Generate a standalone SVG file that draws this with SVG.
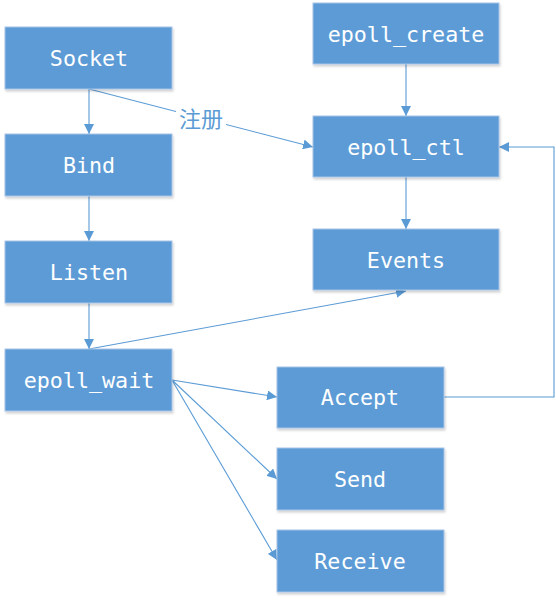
<svg xmlns="http://www.w3.org/2000/svg" width="556" height="600" viewBox="0 0 556 600">
<defs>
<marker id="ah" viewBox="0 0 10 10" refX="10" refY="5" markerWidth="10" markerHeight="10" markerUnits="userSpaceOnUse" orient="auto">
<path d="M0,0 L10,5 L0,10 Z" fill="#5B9BD5"/>
</marker>
<filter id="sh" x="-5%" y="-5%" width="115%" height="120%">
<feDropShadow dx="1" dy="2" stdDeviation="1.2" flood-color="#000" flood-opacity="0.18"/>
</filter>
</defs>
<style>
.box{fill:#5B9BD5;stroke:#A8C4E6;stroke-width:1;filter:url(#sh)}
.t{fill:#fff;font-family:"DejaVu Sans Mono","Liberation Mono",monospace;font-size:21.7px;text-anchor:middle;dominant-baseline:central}
.c{fill:none;stroke:#5B9BD5;stroke-width:1.1;marker-end:url(#ah)}
.lbl{fill:#5B9BD5;font-family:"Noto Sans CJK SC",sans-serif;font-size:22px;text-anchor:middle;dominant-baseline:central}
</style>
<g id="connectors">
<line class="c" x1="89" y1="89" x2="89" y2="134"/>
<line class="c" x1="89" y1="89" x2="313" y2="147"/>
<line class="c" x1="89" y1="196" x2="89" y2="241"/>
<line class="c" x1="89" y1="303" x2="89" y2="349"/>
<line class="c" x1="89" y1="349" x2="406" y2="291"/>
<line class="c" x1="406" y1="64" x2="406" y2="116"/>
<line class="c" x1="406" y1="177" x2="406" y2="229"/>
<line class="c" x1="172" y1="380" x2="277" y2="397"/>
<line class="c" x1="172" y1="380" x2="277" y2="479"/>
<line class="c" x1="172" y1="380" x2="277" y2="560"/>
<polyline class="c" points="444,397 554,397 554,147 499,147"/>
<rect x="176" y="105" width="50" height="26" fill="#fff"/>
<text class="lbl" x="201" y="117">注册</text>
</g>
<g id="socket"><rect class="box" x="5" y="27" width="167" height="62"/><text class="t" x="89" y="58">Socket</text></g>
<g id="bind"><rect class="box" x="5" y="134" width="167" height="62"/><text class="t" x="89" y="165">Bind</text></g>
<g id="listen"><rect class="box" x="5" y="241" width="167" height="62"/><text class="t" x="89" y="272">Listen</text></g>
<g id="epoll_wait"><rect class="box" x="5" y="349" width="167" height="62"/><text class="t" x="89" y="380">epoll_wait</text></g>
<g id="epoll_create"><rect class="box" x="313" y="3" width="186" height="61"/><text class="t" x="406" y="34">epoll_create</text></g>
<g id="epoll_ctl"><rect class="box" x="313" y="116" width="186" height="61"/><text class="t" x="406" y="147">epoll_ctl</text></g>
<g id="events"><rect class="box" x="313" y="229" width="186" height="61"/><text class="t" x="406" y="260">Events</text></g>
<g id="accept"><rect class="box" x="277" y="367" width="167" height="61"/><text class="t" x="360" y="397">Accept</text></g>
<g id="send"><rect class="box" x="277" y="448" width="167" height="62"/><text class="t" x="360" y="479">Send</text></g>
<g id="receive"><rect class="box" x="277" y="530" width="167" height="62"/><text class="t" x="360" y="561">Receive</text></g>
</svg>
